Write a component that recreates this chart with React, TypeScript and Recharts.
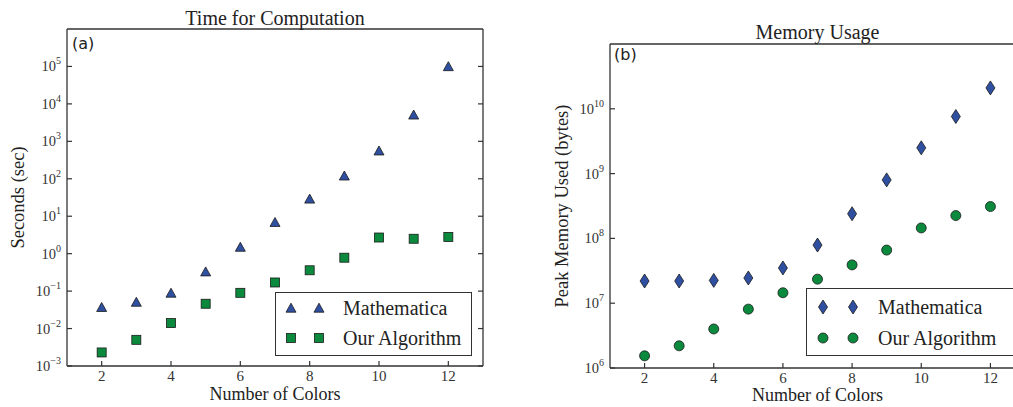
import { ScatterChart, Scatter, XAxis, YAxis, Legend } from "recharts";

// number of colors on the x axis
const colors = [2, 3, 4, 5, 6, 7, 8, 9, 10, 11, 12];
const xTicks = [2, 4, 6, 8, 10, 12];

// (a) time for computation, seconds
const timeMathematica = [0.037, 0.051, 0.089, 0.33, 1.5, 6.9, 29, 120, 560, 5100, 100000];
const timeOurs = [0.0023, 0.005, 0.014, 0.046, 0.09, 0.17, 0.36, 0.78, 2.7, 2.5, 2.8];
const timeTicks = [1e-3, 1e-2, 1e-1, 1e0, 1e1, 1e2, 1e3, 1e4, 1e5];

// (b) peak memory, bytes
const memMathematica = [2.2e7, 2.2e7, 2.25e7, 2.45e7, 3.5e7, 7.9e7, 2.4e8, 8e8, 2.5e9, 7.6e9, 2.1e10];
const memOurs = [1.54e6, 2.2e6, 4e6, 8.1e6, 1.45e7, 2.35e7, 3.9e7, 6.6e7, 1.45e8, 2.25e8, 3.1e8];
const memTicks = [1e6, 1e7, 1e8, 1e9, 1e10];

const BLUE = "#2f4fa0";
const GREEN = "#0b8a3e";
const AXIS = "#333";
const SERIF = "'Liberation Serif', 'Times New Roman', serif";
const M = 4; // tick margin
const H = 407;

const toPoints = (ys: number[]) => colors.map((c, i) => ({ x: c, y: ys[i] }));

const marker = (kind: string, cx: number, cy: number, color: string) => {
  const st = { fill: color, stroke: "#1a1a1a", strokeWidth: 0.8 };
  if (kind === "tri")
    return <polygon points={`${cx},${cy - 4.8} ${cx + 5},${cy + 4.2} ${cx - 5},${cy + 4.2}`} {...st} />;
  if (kind === "square") return <rect x={cx - 4.5} y={cy - 4.5} width={9} height={9} {...st} />;
  if (kind === "diamond")
    return <polygon points={`${cx},${cy - 7} ${cx + 4.5},${cy} ${cx},${cy + 7} ${cx - 4.5},${cy}`} {...st} />;
  return <circle cx={cx} cy={cy} r={5} {...st} />;
};

const expText = (v: number) => String(Math.round(Math.log10(v))).replace("-", "−");

const LeftTick = (p: any) => (
  <g>
    <line x1={p.x + M} x2={p.x + M + 5} y1={p.y} y2={p.y} stroke={AXIS} strokeWidth={1.2} />
    <text x={p.x - 2} y={p.y + 5} textAnchor="end" fontSize={14.5} fill="#333" fontFamily={SERIF}>
      <tspan>10</tspan>
      <tspan dy={-7} fontSize={10}>{expText(p.payload.value)}</tspan>
    </text>
  </g>
);
const RightTick = (p: any) => (
  <line x1={p.x - M} x2={p.x - M - 5} y1={p.y} y2={p.y} stroke={AXIS} strokeWidth={1.2} />
);
const BottomTick = (p: any) => (
  <g>
    <line x1={p.x} x2={p.x} y1={p.y - M} y2={p.y - M - 5} stroke={AXIS} strokeWidth={1.2} />
    <text x={p.x} y={p.y + 11} textAnchor="middle" fontSize={15} fill="#333" fontFamily={SERIF}>
      {p.payload.value}
    </text>
  </g>
);
const TopTick = (p: any) => (
  <line x1={p.x} x2={p.x} y1={p.y + M} y2={p.y + M + 5} stroke={AXIS} strokeWidth={1.2} />
);

interface Series {
  name: string;
  data: { x: number; y: number }[];
  color: string;
  shape: string;
}

interface PanelProps {
  left: number;
  width: number;
  margin: { top: number; right: number; bottom: number; left: number };
  yAxisWidth: number;
  xAxisHeight: number;
  title: string;
  titleY: number;
  xLabelY: number;
  yLabel: string;
  yLabelX: number;
  tag: string;
  tagPos: [number, number];
  yDomain: [number, number];
  yTicks: number[];
  series: Series[];
  legend: { left: number; top: number; width: number; height: number; mx: number[]; tx: number; rows: number[] };
}

const Panel = (p: PanelProps) => {
  const plotTop = p.margin.top + 1;
  const plotBottom = H - p.margin.bottom - p.xAxisHeight;
  const plotLeft = p.margin.left + p.yAxisWidth;
  const plotRight = p.width - p.margin.right - 1;
  const midY = (plotTop + plotBottom) / 2;
  const midX = (plotLeft + plotRight) / 2;
  const lg = p.legend;

  // title, axis labels and panel tag
  const texts = () => (
    <g fill="#222" fontFamily={SERIF}>
      <text x={midX} y={p.titleY} textAnchor="middle" fontSize={20}>
        {p.title}
      </text>
      <text x={midX} y={p.xLabelY} textAnchor="middle" fontSize={18}>
        Number of Colors
      </text>
      <text
        x={p.yLabelX}
        y={midY}
        transform={`rotate(-90, ${p.yLabelX}, ${midY})`}
        textAnchor="middle"
        fontSize={18.5}
      >
        {p.yLabel}
      </text>
      <text x={p.tagPos[0]} y={p.tagPos[1]} fontSize={16} fontFamily="'DejaVu Sans', sans-serif">
        {p.tag}
      </text>
    </g>
  );

  const legendContent = (props: any) => {
    const items = props.payload || [];
    return (
      <svg width={lg.width} height={lg.height} style={{ display: "block" }}>
        {items.map((it: any, i: number) => {
          const s = p.series[i];
          const cy = lg.rows[i];
          return (
            <g key={i}>
              {lg.mx.map((mx, j) => (
                <g key={j}>{marker(s.shape, mx, cy, s.color)}</g>
              ))}
              <text x={lg.tx} y={cy + 7} fontSize={20} fill="#222" fontFamily={SERIF}>
                {it.value}
              </text>
            </g>
          );
        })}
      </svg>
    );
  };

  return (
    <div style={{ position: "absolute", left: p.left, top: 0, width: p.width, height: H }}>
      <ScatterChart width={p.width} height={H} margin={p.margin}>
        <XAxis
          type="number"
          dataKey="x"
          domain={[1, 13]}
          ticks={xTicks}
          allowDataOverflow
          height={p.xAxisHeight}
          tickSize={0}
          tickMargin={M}
          tickLine={false}
          tick={BottomTick}
          axisLine={{ stroke: AXIS, strokeWidth: 1.3 }}
        />
        <XAxis
          xAxisId="top"
          orientation="top"
          type="number"
          domain={[1, 13]}
          ticks={xTicks}
          allowDataOverflow
          height={1}
          tickSize={0}
          tickMargin={M}
          tickLine={false}
          tick={TopTick}
          axisLine={{ stroke: AXIS, strokeWidth: 1.3 }}
        />
        <YAxis
          type="number"
          dataKey="y"
          scale="log"
          domain={p.yDomain}
          ticks={p.yTicks}
          allowDataOverflow
          width={p.yAxisWidth}
          tickSize={0}
          tickMargin={M}
          tickLine={false}
          tick={LeftTick}
          axisLine={{ stroke: AXIS, strokeWidth: 1.3 }}
          label={texts}
        />
        <YAxis
          yAxisId="right"
          orientation="right"
          type="number"
          scale="log"
          domain={p.yDomain}
          ticks={p.yTicks}
          allowDataOverflow
          width={1}
          tickSize={0}
          tickMargin={M}
          tickLine={false}
          tick={RightTick}
          axisLine={{ stroke: AXIS, strokeWidth: 1.3 }}
        />
        {p.series.map((s) => (
          <Scatter
            key={s.name}
            name={s.name}
            data={s.data}
            fill={s.color}
            isAnimationActive={false}
            shape={(sp: any) => marker(s.shape, sp.cx, sp.cy, s.color)}
          />
        ))}
        <Legend
          layout="horizontal"
          verticalAlign="middle"
          align="center"
          content={legendContent}
          wrapperStyle={{
            left: lg.left,
            top: lg.top,
            width: lg.width,
            height: lg.height,
            border: `1.3px solid ${AXIS}`,
            background: "#fff",
            boxSizing: "border-box",
          }}
        />
      </ScatterChart>
    </div>
  );
};

export default function App() {
  return (
    <div
      style={{
        position: "absolute",
        left: 0,
        top: 0,
        width: 1013,
        height: H,
        overflow: "hidden",
        background: "#fff",
        fontFamily: SERIF,
      }}
    >
      <Panel
        left={0}
        width={500}
        margin={{ top: 28, right: 16, bottom: 0, left: 22 }}
        yAxisWidth={45}
        xAxisHeight={41}
        title="Time for Computation"
        titleY={25}
        xLabelY={400}
        yLabel="Seconds (sec)"
        yLabelX={24}
        tag="(a)"
        tagPos={[72, 49]}
        yDomain={[1e-3, 1e6]}
        yTicks={timeTicks}
        series={[
          { name: "Mathematica", data: toPoints(timeMathematica), color: BLUE, shape: "tri" },
          { name: "Our Algorithm", data: toPoints(timeOurs), color: GREEN, shape: "square" },
        ]}
        legend={{ left: 275, top: 292, width: 197, height: 64, mx: [15, 43], tx: 67, rows: [15, 45] }}
      />
      <Panel
        left={500}
        width={530}
        margin={{ top: 43, right: 4, bottom: 0, left: 50 }}
        yAxisWidth={60}
        xAxisHeight={39}
        title="Memory Usage"
        titleY={39}
        xLabelY={401}
        yLabel="Peak Memory Used (bytes)"
        yLabelX={68}
        tag="(b)"
        tagPos={[114, 60]}
        yDomain={[1e6, 1e11]}
        yTicks={memTicks}
        series={[
          { name: "Mathematica", data: toPoints(memMathematica), color: BLUE, shape: "diamond" },
          { name: "Our Algorithm", data: toPoints(memOurs), color: GREEN, shape: "circle" },
        ]}
        legend={{ left: 306, top: 288, width: 230, height: 68, mx: [16, 46], tx: 71, rows: [18, 49] }}
      />
    </div>
  );
}
